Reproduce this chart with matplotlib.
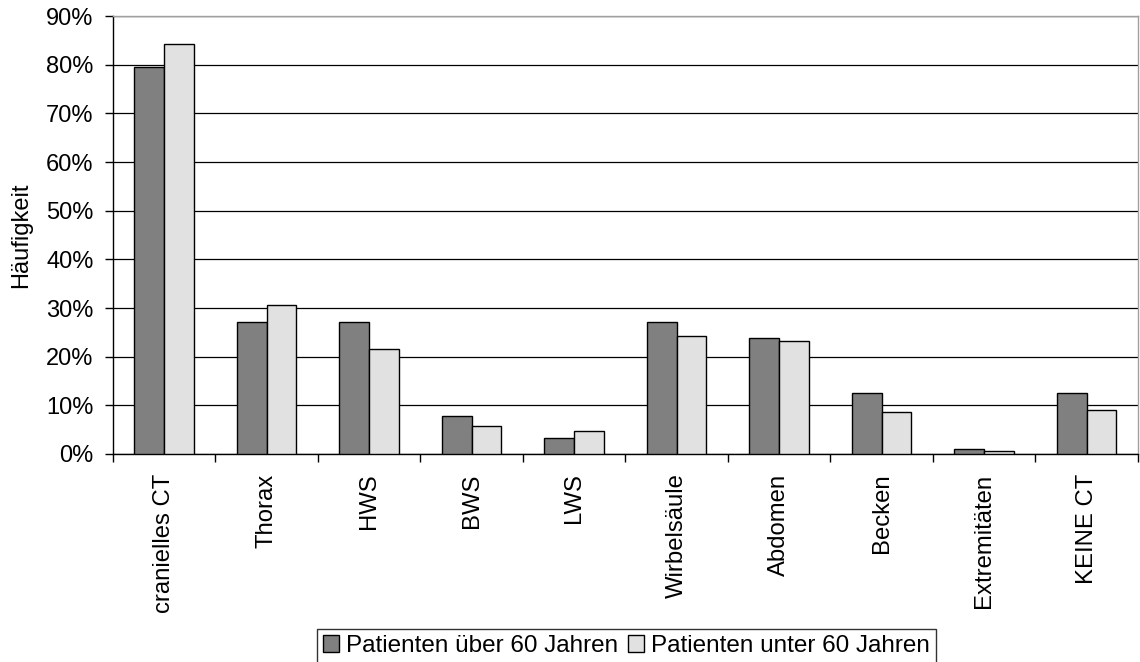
import numpy as np
import matplotlib
matplotlib.use('Agg')
import matplotlib.pyplot as plt
from matplotlib.ticker import PercentFormatter

plt.rcParams['font.family'] = ['Liberation Sans', 'DejaVu Sans']

# data
kategorien = ['cranielles CT', 'Thorax', 'HWS', 'BWS', 'LWS', 'Wirbelsäule',
              'Abdomen', 'Becken', 'Extremitäten', 'KEINE CT']
ueber_60 = [79.5, 27.2, 27.2, 7.9, 3.3, 27.2, 23.8, 12.5, 1.0, 12.5]
unter_60 = [84.3, 30.7, 21.6, 5.8, 4.8, 24.2, 23.3, 8.6, 0.6, 9.0]
y_ticks = np.arange(0, 91, 10)

fig = plt.figure(figsize=(11.4, 6.62), dpi=100)
ax = fig.add_axes([0.0991, 0.3142, 0.8991, 0.6616])

x = np.arange(len(kategorien))
w = 0.29
ax.bar(x - w/2, ueber_60, w, color='#808080', edgecolor='black', linewidth=1,
       label='Patienten über 60 Jahren', zorder=3)
ax.bar(x + w/2, unter_60, w, color='#e1e1e1', edgecolor='black', linewidth=1,
       label='Patienten unter 60 Jahren', zorder=3)

ax.set_xlim(-0.5, len(kategorien) - 0.5)
ax.set_ylim(0, 90)
ax.set_yticks(y_ticks)
ax.yaxis.set_major_formatter(PercentFormatter(decimals=0))
ax.yaxis.grid(True, color='black', linewidth=0.9, zorder=0)

ax.set_xticks(x)
ax.set_xticklabels(kategorien, rotation=90)
ax.set_xticks(np.arange(-0.5, len(kategorien)), minor=True)
ax.tick_params(axis='x', which='major', length=0, pad=14, labelsize=17.2)
ax.tick_params(axis='x', which='minor', length=6, width=1, direction='out')
ax.tick_params(axis='y', length=6, width=1, direction='out', labelsize=17, pad=8)

ax.set_ylabel('Häufigkeit', fontsize=17, labelpad=10)

for s in ['left', 'bottom']:
    ax.spines[s].set_color('black')
    ax.spines[s].set_linewidth(1)
for s in ['top', 'right']:
    ax.spines[s].set_color('#a0a0a0')
    ax.spines[s].set_linewidth(1)

leg = fig.legend(loc='upper center', bbox_to_anchor=(0.5496, 0.050), ncol=2,
                 fontsize=17.5, frameon=True, fancybox=False, edgecolor='black',
                 handlelength=0.65, handleheight=0.65, handletextpad=0.3,
                 columnspacing=0.4, borderpad=0.25, borderaxespad=0)
leg.get_frame().set_linewidth(1)

fig.savefig('out.png', dpi=100)
